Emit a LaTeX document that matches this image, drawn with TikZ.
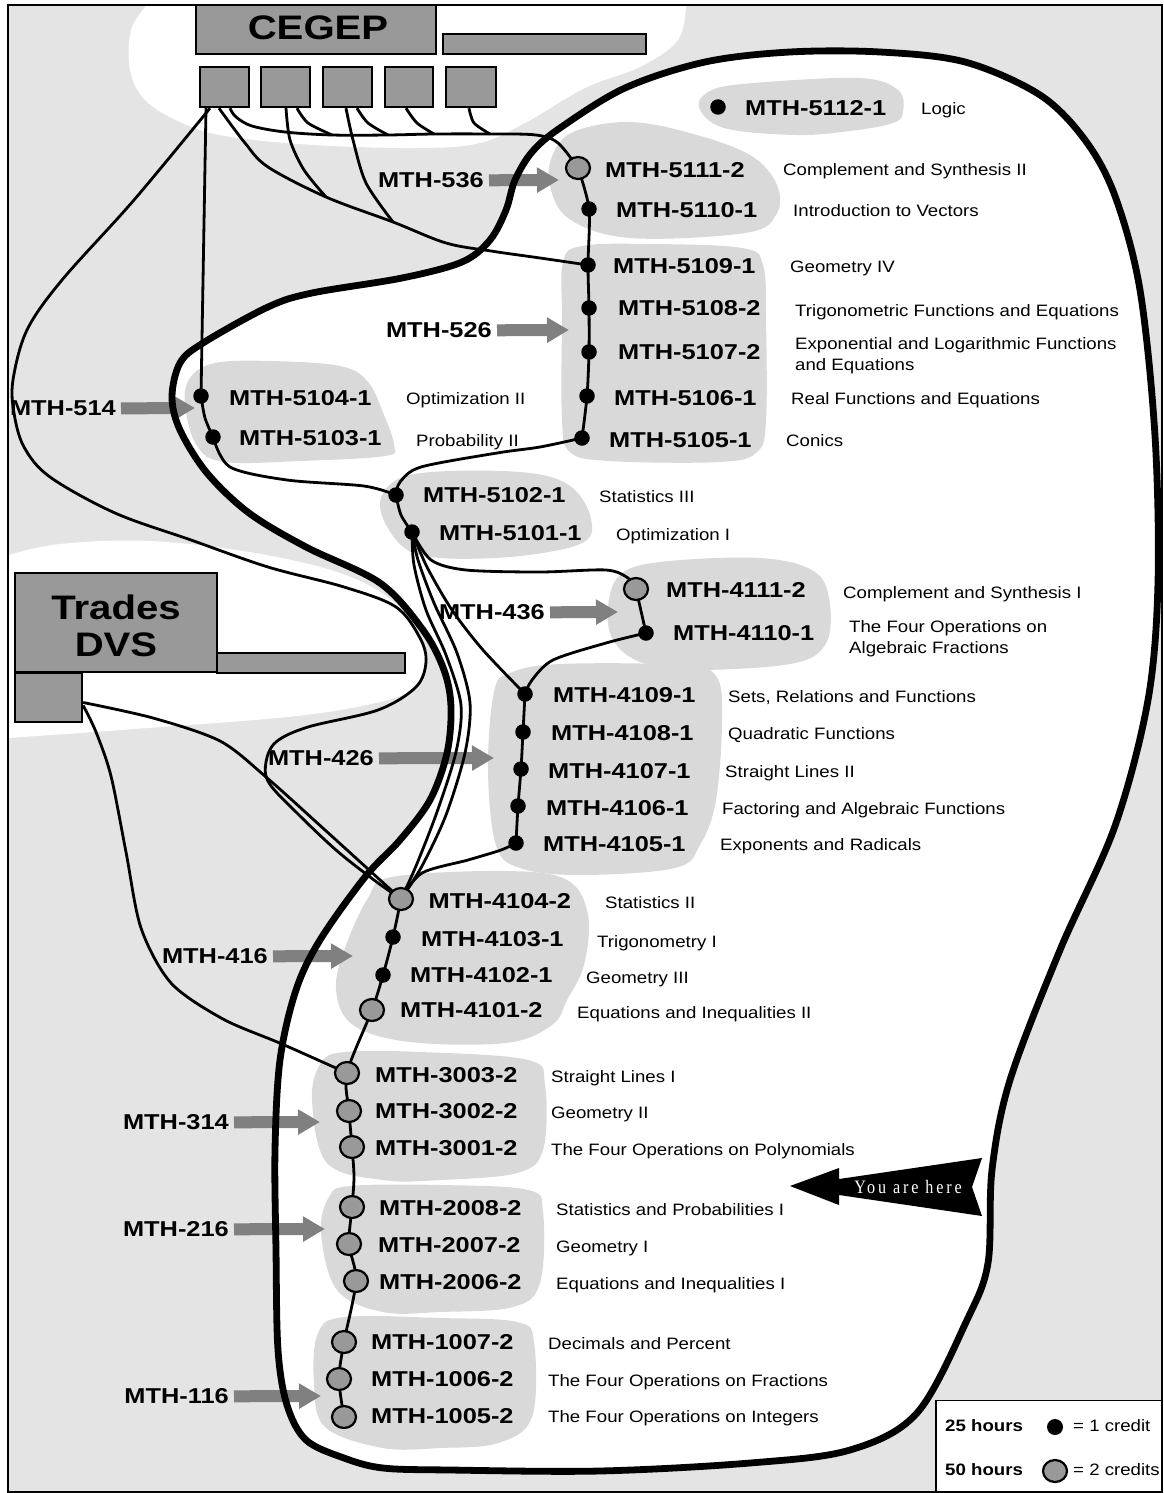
\documentclass[tikz,border=0pt]{standalone}
\usepackage{fontspec}
\setmainfont{Liberation Sans}
\newfontfamily\codefont[FakeStretch=1.18]{Liberation Sans}
\newfontfamily\descfont[FakeStretch=1.13]{Liberation Sans}
\newfontfamily\yahfont[FakeStretch=0.85,LetterSpace=15]{Liberation Serif}
\usetikzlibrary{arrows.meta,calc,shapes.geometric}
\definecolor{bglight}{gray}{0.895}
\definecolor{blobgray}{gray}{0.85}
\definecolor{boxgray}{gray}{0.6}
\definecolor{arrowgray}{gray}{0.5}
\pgfdeclarelayer{back}
\pgfdeclarelayer{blobs}
\pgfdeclarelayer{arr}
\pgfdeclarelayer{conn}
\pgfdeclarelayer{thick}
\pgfsetlayers{back,blobs,arr,conn,thick,main}
\tikzset{
 dot1/.style={circle,fill=black,inner sep=0pt,minimum size=15.5pt},
 dot2/.style={ellipse,draw=black,line width=2.2pt,fill=boxgray,inner sep=0pt,minimum width=24pt,minimum height=22pt},
 cstyle/.style={anchor=base west,inner sep=0pt,font=\codefont\bfseries\fontsize{21.5}{24}\selectfont},
 dstyle/.style={anchor=base west,inner sep=0pt,font=\descfont\fontsize{16.5}{20.5}\selectfont},
 d2style/.style={anchor=north west,inner sep=0pt,align=left,font=\descfont\fontsize{16.5}{20.5}\selectfont},
 labst/.style={anchor=base east,inner sep=0pt,font=\codefont\bfseries\fontsize{21.5}{24}\selectfont},
 connl/.style={line width=2.8pt,draw=black,line join=round},
 garrow/.style={line width=12pt,draw=arrowgray,shorten <=5pt,-{Triangle[length=22pt,width=24pt]}},
 gbox/.style={draw=black,line width=2.4pt,fill=boxgray,inner sep=0pt},
 bigt/.style={inner sep=0pt,font=\codefont\bfseries\fontsize{34}{37.5}\selectfont},
 legb/.style={anchor=base west,inner sep=0pt,font=\descfont\bfseries\fontsize{16.5}{20}\selectfont},
 legt/.style={anchor=base west,inner sep=0pt,font=\descfont\fontsize{16.5}{20}\selectfont},
}
\newcommand\course[9]{%
 \node[dot#3] (c#1) at (#4) {};
 \node[cstyle] (k#1) at (#5,#6+7.7) {MTH-#1-#2};
 \node[dstyle] (d#1) at (#7,#8+5.9) {#9};}
\newcommand\cblob[1]{\fill[blobgray] plot[smooth cycle,tension=0.6] coordinates {#1};}
\newcommand\thickcurve[1]{\path[#1] plot[smooth cycle,tension=0.55] coordinates {
 (515,180) (532,152) (560,128) (625,88) (705,62) (790,52) (880,52) (965,62) (1040,95)
 (1085,140) (1115,196) (1140,290) (1155,436) (1158,582) (1148,700) (1115,826) (1060,950)
 (1010,1080) (992,1170) (988,1263) (967,1320) (917,1413) (850,1450) (750,1463) (600,1471)
 (450,1470) (383,1468) (344,1458) (306,1440) (287,1405) (278,1350) (276,1250) (275,1150)
 (280,1060) (296,990) (320,940) (365,877) (400,840) (430,800) (447,753) (451,707) (444,670)
 (423,630) (380,583) (306,547) (249,513) (207,473) (180,430) (172,397) (180,363) (203,343)
 (268,307) (312,293) (402,278) (462,262) (490,240) (506,210)};}
\newcommand\garr[4]{%
 \node[labst] (l#1) at (#2,#3+7.7) {MTH-#1};
 \coordinate (t#1) at (#4,#3);
 \begin{pgfonlayer}{arr}\draw[garrow] (l#1.east) -- (t#1);\end{pgfonlayer}}
\begin{document}
\begin{tikzpicture}[x=1pt,y=-1pt]
\useasboundingbox (0,0) rectangle (1163,1493);
% ---------- background ----------
\begin{pgfonlayer}{back}
\fill[bglight] (8,5) rectangle (1162,1492);
\fill[white] plot[smooth,tension=0.6] coordinates {(147,5) (131,30) (130,70) (145,100) (180,122) (225,136) (313,145) (420,148) (480,143) (525,123) (585,88) (640,67) (678,40) (686,5)} -- cycle;
\fill[white] plot[smooth,tension=0.6] coordinates {(9,555) (60,544) (150,541) (255,553) (343,574) (395,603) (422,640) (426,667) (415,688) (380,702) (297,716) (148,728) (9,738)} -- cycle;
\thickcurve{fill=white}
\end{pgfonlayer}
\begin{pgfonlayer}{blobs}
\cblob{(699,107) (712,90) (754,83) (859,78) (898,90) (903,112) (893,123) (850,131) (796,135) (724,128)}
\cblob{(549,180) (556,148) (578,130) (630,122) (690,133) (750,155) (777,185) (776,215) (745,233) (630,238) (568,218)}
\cblob{(563,262) (582,246) (650,244) (742,248) (763,265) (766,320) (766,420) (757,452) (720,462) (609,461) (570,452) (562,420) (562,320)}
\cblob{(185,405) (190,378) (215,363) (270,361) (340,366) (368,382) (384,415) (394,445) (385,456) (300,461) (225,462) (197,446)}
\cblob{(380,507) (398,479) (450,471) (530,473) (570,486) (590,515) (584,542) (520,556) (440,558) (402,546)}
\cblob{(608,607) (620,575) (660,562) (760,558) (815,572) (830,605) (825,645) (790,664) (690,670) (640,662) (613,640)}
\cblob{(488,770) (494,692) (510,673) (560,664) (680,665) (716,676) (722,720) (716,800) (700,845) (675,868) (580,875) (520,868) (496,845)}
\cblob{(345,948) (368,898) (392,877) (506,871) (567,880) (588,915) (584,965) (567,1000) (552,1025) (506,1043) (410,1042) (353,1025) (336,990)}
\cblob{(312,1100) (321,1063) (345,1052) (420,1052) (528,1060) (545,1085) (543,1150) (517,1173) (440,1180) (383,1180) (327,1163)}
\cblob{(321,1233) (329,1197) (350,1186) (440,1185) (528,1190) (543,1212) (540,1283) (513,1307) (440,1312) (383,1312) (337,1290)}
\cblob{(314,1383) (318,1333) (345,1317) (440,1318) (517,1322) (534,1342) (532,1417) (498,1443) (440,1448) (383,1448) (325,1427)}
\end{pgfonlayer}
% ---------- boxes ----------
\node[gbox,minimum width=240,minimum height=49] (cegepbox) at (316,29.5) {};
\node[bigt] (cegep) at (318,27.5) {CEGEP};
\node[gbox,minimum width=203,minimum height=20] (cbar) at (544.5,44) {};
\node[gbox,minimum width=49,minimum height=40] (b1) at (224.5,87) {};
\node[gbox,minimum width=49,minimum height=40] (b2) at (285.5,87) {};
\node[gbox,minimum width=49,minimum height=40] (b3) at (347.5,87) {};
\node[gbox,minimum width=48,minimum height=40] (b4) at (409,87) {};
\node[gbox,minimum width=50,minimum height=40] (b5) at (471,87) {};
\node[gbox,minimum width=202,minimum height=99] (tradesbox) at (116,622.5) {};
\node[bigt,align=center] (trades) at (116,626) {Trades\\DVS};
\node[gbox,minimum width=188,minimum height=20] (tbar) at (311,663) {};
\node[gbox,minimum width=67,minimum height=49] (tr) at (48.5,697.5) {};
% ---------- courses ----------
\course{5112}{1}{1}{718,107}{745}{107.5}{921}{109}{Logic}
\course{5111}{2}{2}{578,168}{605}{169.5}{783}{170}{Complement and Synthesis II}
\course{5110}{1}{1}{589,209}{616}{209.5}{793}{211}{Introduction to Vectors}
\course{5109}{1}{1}{588,265}{613}{265.5}{790}{267}{Geometry IV}
\course{5108}{2}{1}{589,308}{618}{308}{795}{311}{Trigonometric Functions and Equations}
\node[dot1] (c5107) at (589,352) {};
\node[cstyle] (k5107) at (618,352+7.7) {MTH-5107-2};
\node[d2style] (d5107) at (795,337.8) {Exponential and Logarithmic Functions\\and Equations};
\course{5106}{1}{1}{587,396}{614}{397.5}{791}{399}{Real Functions and Equations}
\course{5105}{1}{1}{582,438}{609}{439.5}{786}{441}{Conics}
\course{5104}{1}{1}{201,396}{229}{397.5}{406}{399}{Optimization II}
\course{5103}{1}{1}{213,437}{239}{438}{416}{441}{Probability II}
\course{5102}{1}{1}{396,495}{423}{495}{599}{497}{Statistics III}
\course{5101}{1}{1}{412,532}{439}{533}{616}{535}{Optimization I}
\course{4111}{2}{2}{636,589}{666}{590}{843}{593}{Complement and Synthesis I}
\node[dot1] (c4110) at (646,633) {};
\node[cstyle] (k4110) at (673,633+7.7) {MTH-4110-1};
\node[d2style] (d4110) at (849,620.8) {The Four Operations on\\Algebraic Fractions};
\course{4109}{1}{1}{525,694}{553}{695}{728}{697}{Sets, Relations and Functions}
\course{4108}{1}{1}{523,732}{551}{732.5}{728}{734}{Quadratic Functions}
\course{4107}{1}{1}{521,769}{548}{770.5}{725}{771.5}{Straight Lines II}
\course{4106}{1}{1}{518,806}{546}{807.5}{722}{809}{Factoring and Algebraic Functions}
\course{4105}{1}{1}{516,843}{543}{843.5}{720}{845}{Exponents and Radicals}
\course{4104}{2}{2}{401,899}{428.5}{900.8}{605}{903}{Statistics II}
\course{4103}{1}{1}{393,937}{421}{938.5}{597}{941.5}{Trigonometry I}
\course{4102}{1}{1}{383,975}{410}{975}{586}{978}{Geometry III}
\course{4101}{2}{2}{372,1010}{400}{1010}{577}{1013}{Equations and Inequalities II}
\course{3003}{2}{2}{347,1073}{375}{1074.5}{551}{1076.5}{Straight Lines I}
\course{3002}{2}{2}{349,1111}{375}{1111}{551}{1113}{Geometry II}
\course{3001}{2}{2}{352,1147}{375}{1148}{551}{1150}{The Four Operations on Polynomials}
\course{2008}{2}{2}{352,1207}{379}{1207.5}{556}{1210}{Statistics and Probabilities I}
\course{2007}{2}{2}{349,1244}{378}{1245}{556}{1247}{Geometry I}
\course{2006}{2}{2}{356,1281}{379}{1282}{556}{1284}{Equations and Inequalities I}
\course{1007}{2}{2}{344,1342}{371}{1341.7}{548}{1344}{Decimals and Percent}
\course{1006}{2}{2}{339,1379}{371}{1378.5}{548}{1381}{The Four Operations on Fractions}
\course{1005}{2}{2}{344,1417}{371}{1416}{548}{1417}{The Four Operations on Integers}
% ---------- level arrows ----------
\garr{536}{484}{180}{559}
\garr{526}{492}{330}{569}
\garr{514}{116}{408}{195}
\garr{436}{545}{612}{618}
\garr{426}{374}{758}{494}
\garr{416}{268}{956}{353}
\garr{314}{229}{1122}{320}
\garr{216}{229}{1229}{325}
\garr{116}{229}{1396}{321}
% ---------- you are here ----------
\begin{pgfonlayer}{arr}
\fill[black] (790,1186) -- (839,1168) -- (839,1179) -- (982,1158) -- (972,1187) -- (982,1216) -- (839,1195) -- (839,1205) -- cycle;
\end{pgfonlayer}
\node[font=\yahfont\fontsize{19}{20}\selectfont,text=white,inner sep=0pt] (yah) at (908,1187) {You are here};
% ---------- junctions ----------
\coordinate (j1) at (326,197);
\coordinate (j2) at (393,222);
\coordinate (q1) at (332,135);
\coordinate (q2) at (388,135);
\coordinate (q3) at (434,134);
\coordinate (q4) at (490,134);
% ---------- connectors ----------
\begin{pgfonlayer}{conn}
\draw[connl] plot[smooth,tension=0.55] coordinates {([xshift=-14.5pt]b1.south) (134,200) (62,280) (27,330) (13,380) (14,413) (24,447) (50,477) (115,513) (191,540) (268,567) (344,587) (396,607) (420,638) (426,662) (416,687) (378,710) (308,727) (276,742) (266,762) (269,783) (297,813) (336,850) (374,880) (c4104.center)};
\draw[connl] ([xshift=-18.5pt]b1.south) -- (c5104.center);
\draw[connl] plot[smooth,tension=0.55] coordinates {([xshift=-5.5pt]b1.south) (245,143) (268,167) (j1) (j2) (446,243) (491,251) (540,258) (c5109.center)};
\draw[connl] plot[smooth,tension=0.55] coordinates {([xshift=5.5pt]b1.south) (236,117) (252,126) (285,132) (q1) (q2) (q3) (q4) (536,135) (558,143) (c5111.center)};
\draw[connl] plot[smooth] coordinates {([xshift=0.5pt]b2.south) (290,140) (304,170) (j1)};
\draw[connl] plot[smooth] coordinates {([xshift=11.5pt]b2.south) (308,123) (q1)};
\draw[connl] plot[smooth] coordinates {([xshift=-1.5pt]b3.south) (353,140) (366,183) (j2)};
\draw[connl] plot[smooth] coordinates {([xshift=9.5pt]b3.south) (368,123) (q2)};
\draw[connl] plot[smooth] coordinates {([xshift=-3pt]b4.south) (417,123) (q3)};
\draw[connl] plot[smooth] coordinates {([xshift=-2pt]b5.south) (474,123) (q4)};
\draw[connl] plot[smooth] coordinates {(c5111.center) (c5110.center) (c5109.center) (c5108.center) (c5107.center) (c5106.center) (c5105.center)};
\draw[connl] plot[smooth] coordinates {(c5105.center) (540,447) (497,453) (421,467) (400,482) (c5102.center)};
\draw[connl] plot[smooth] coordinates {(c5104.center) (205,418) (c5103.center)};
\draw[connl] plot[smooth] coordinates {(c5103.center) (230,467) (287,480) (364,486) (c5102.center)};
\draw[connl] plot[smooth] coordinates {(c5102.center) (401,515) (c5101.center)};
\draw[connl] plot[smooth] coordinates {(c5101.center) (431,560) (466,570) (540,572) (606,570) (628,578) (c4111.center)};
\draw[connl] (c4111.center) -- (c4110.center);
\draw[connl] plot[smooth] coordinates {(c4110.center) (606,643) (553,660) (532,680) (c4109.center)};
\draw[connl] plot[smooth] coordinates {(c5101.center) (427,567) (452,610) (483,650) (c4109.center)};
\draw[connl] plot[smooth] coordinates {(c4109.center) (c4108.center) (c4107.center) (c4106.center) (c4105.center)};
\draw[connl] plot[smooth] coordinates {(c4105.center) (501,850) (468,860) (422,873) (c4104.center)};
\draw[connl] plot[smooth] coordinates {(c5101.center) (418,560) (434,603) (457,653) (470,703) (465,753) (446,815) (422,866) (c4104.center)};
\draw[connl] plot[smooth] coordinates {(c5101.center) (414,565) (426,610) (446,655) (461,705) (456,752) (437,812) (416,866) (c4104.center)};
\draw[connl] plot[smooth] coordinates {(c4104.center) (c4103.center) (c4102.center) (c4101.center) (c3003.center) (c3002.center) (c3001.center) (354,1177) (c2008.center) (c2007.center) (c2006.center) (c1007.center) (c1006.center) (c1005.center)};
\draw[connl] plot[smooth] coordinates {($(tr.east)+(0,5)$) (153,718) (220,741) (266,777) (325,830) (c4104.center)};
\draw[connl] plot[smooth] coordinates {($(tr.east)+(0,8)$) (96,732) (111,776) (126,852) (141,928) (171,983) (223,1019) (282,1044) (c3003.center)};
\end{pgfonlayer}
\begin{pgfonlayer}{thick}
\thickcurve{draw=black,line width=6.8pt}
\end{pgfonlayer}
% ---------- legend ----------
\node[draw=black,line width=1.8pt,fill=white,minimum width=226,minimum height=91,inner sep=0pt] (legend) at (1049,1446) {};
\node[legb] (h25) at (945,1426+5.9) {25 hours};
\node[dot1,minimum size=16pt] (ld1) at (1055,1427) {};
\node[legt] (cr1) at (1073,1426+5.9) {= 1 credit};
\node[legb] (h50) at (945,1470+5.9) {50 hours};
\node[dot2] (ld2) at (1055,1471) {};
\node[legt] (cr2) at (1073,1470+5.9) {= 2 credits};
\draw[line width=2pt] (8,5) rectangle (1162,1492);
\end{tikzpicture}
\end{document}
